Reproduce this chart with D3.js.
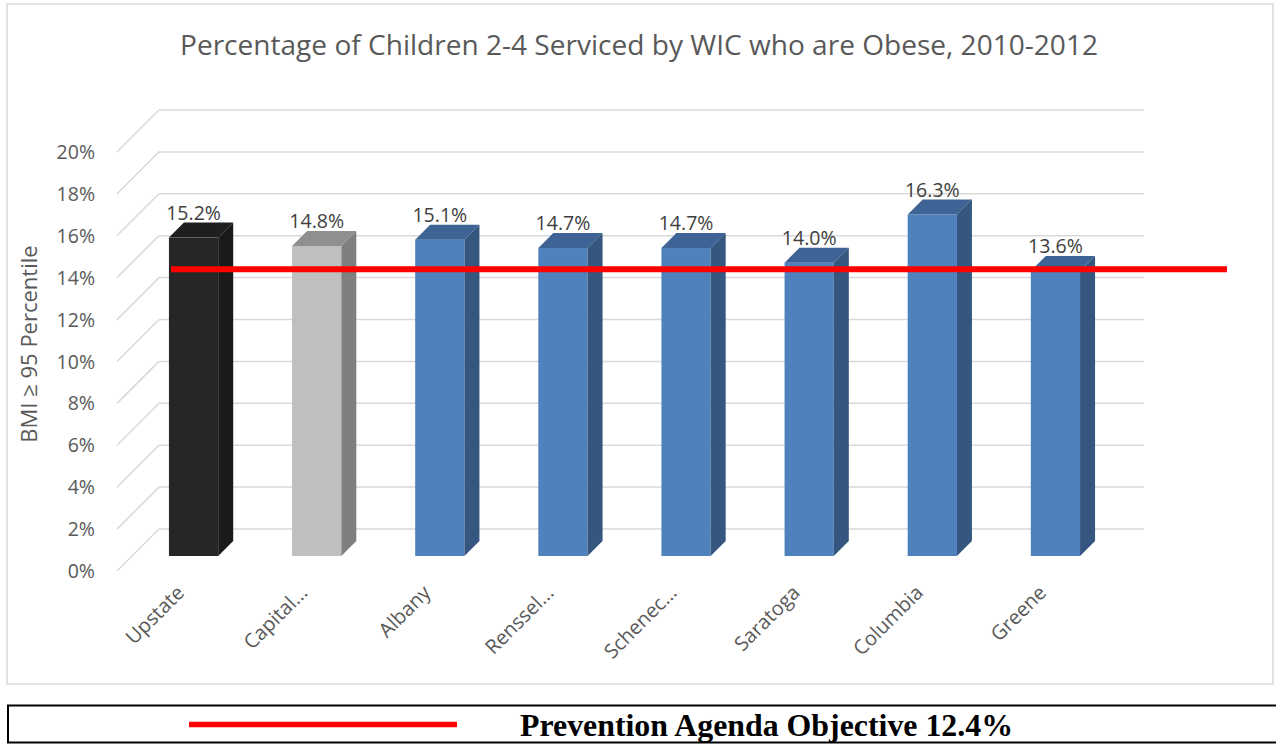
<!DOCTYPE html>
<html>
<head>
<meta charset="utf-8">
<script src="https://cdn.jsdelivr.net/npm/d3@7"></script>
<style>
  body { margin: 0; background: #fff; }
  svg { display: block; }
  text { font-family: "Open Sans", sans-serif; }
</style>
</head>
<body>
<div id="chart"></div>
<script>
// chart data
var categories = ["Upstate", "Capital...", "Albany", "Renssel...", "Schenec...", "Saratoga", "Columbia", "Greene"];
var values = [15.2, 14.8, 15.1, 14.7, 14.7, 14.0, 16.3, 13.6];
var yTicks = [0, 2, 4, 6, 8, 10, 12, 14, 16, 18, 20];
var objective = 12.4;
var title = "Percentage of Children 2-4 Serviced by WIC who are Obese, 2010-2012";
var yTitle = "BMI \u2265 95 Percentile";
var legendText = "Prevention Agenda Objective 12.4%";

var width = 1276, height = 744;
var svg = d3.select("#chart").append("svg").attr("width", width).attr("height", height);

// colours: region, capital district, counties
function barColors(i) {
  if (i === 0) return { front: "#262626", side: "#1a1a1a", top: "#1f1f1f" };
  if (i === 1) return { front: "#bfbfbf", side: "#7f7f7f", top: "#8f8f8f" };
  return { front: "#4f81bd", side: "#34567f", top: "#3d6494" };
}

// 3d geometry
var wallDepth = 42;     // floor depth (dx == dy)
var barOffset = 15;     // distance of bar front from front plane
var barDepth = 15;

var x = d3.scaleBand().domain(categories).range([117, 1102]).paddingInner(0.6).paddingOuter(0.3);
var y = d3.scaleLinear().domain([0, 20]).range([571, 152]);

// outer frame
svg.append("rect").attr("x", 7).attr("y", 4).attr("width", 1266).attr("height", 680)
  .attr("fill", "none").attr("stroke", "#d9d9d9").attr("stroke-width", 1.5);

// title
svg.append("text").attr("x", 639).attr("y", 55).attr("text-anchor", "middle")
  .attr("font-size", 27).attr("fill", "#595959")
  .attr("textLength", 918).attr("lengthAdjust", "spacingAndGlyphs")
  .text(title);

// gridlines: back wall + side wall
var grid = svg.append("g").attr("stroke", "#d9d9d9").attr("stroke-width", 1.5).attr("fill", "none");
grid.selectAll("line.back").data(yTicks).enter().append("line")
  .attr("x1", 117 + wallDepth).attr("x2", 1102 + wallDepth)
  .attr("y1", function(d) { return y(d) - wallDepth; })
  .attr("y2", function(d) { return y(d) - wallDepth; });
grid.selectAll("line.side").data(yTicks).enter().append("line")
  .attr("x1", 117).attr("x2", 117 + wallDepth)
  .attr("y1", function(d) { return y(d); })
  .attr("y2", function(d) { return y(d) - wallDepth; });

// y tick labels
svg.selectAll("text.ytick").data(yTicks).enter().append("text")
  .attr("x", 95).attr("y", function(d) { return y(d); }).attr("dy", "0.36em")
  .attr("text-anchor", "end").attr("font-size", 19.5).attr("fill", "#595959")
  .text(function(d) { return d + "%"; });

// y title
svg.append("text").attr("transform", "translate(37,344) rotate(-90)")
  .attr("text-anchor", "middle").attr("font-size", 22).attr("fill", "#595959")
  .text(yTitle);

// bars
var bars = svg.selectAll("g.bar").data(values).enter().append("g");
bars.each(function(v, i) {
  var g = d3.select(this);
  var c = barColors(i);
  var x0 = x(categories[i]) + barOffset;
  var w = x.bandwidth();
  var yt = y(v) - barOffset, yb = y(0) - barOffset;
  var d = barDepth;
  g.append("rect").attr("x", x0).attr("y", yt).attr("width", w).attr("height", yb - yt).attr("fill", c.front);
  g.append("polygon").attr("fill", c.side)
    .attr("points", [[x0 + w, yt], [x0 + w + d, yt - d], [x0 + w + d, yb - d], [x0 + w, yb]].join(" "));
  g.append("polygon").attr("fill", c.top)
    .attr("points", [[x0, yt], [x0 + d, yt - d], [x0 + w + d, yt - d], [x0 + w, yt]].join(" "));
  g.append("text").attr("x", x0 + w / 2).attr("y", yt - d - 3)
    .attr("text-anchor", "middle").attr("font-size", 19.5).attr("fill", "#404040")
    .text(v.toFixed(1) + "%");
});

// category labels
svg.selectAll("text.xlab").data(categories).enter().append("text")
  .attr("transform", function(d) {
    return "translate(" + (x(d) + barOffset + x.bandwidth() / 2 - 8) + ",594) rotate(-45)";
  })
  .attr("text-anchor", "end").attr("font-size", 20).attr("fill", "#595959")
  .text(function(d) { return d; });

// objective line (drawn on back wall level)
var objY = y(objective) - wallDepth;
svg.append("line").attr("x1", 171).attr("x2", 1227).attr("y1", objY).attr("y2", objY)
  .attr("stroke", "#ff0000").attr("stroke-width", 6);

// legend box
svg.append("rect").attr("x", 8).attr("y", 705.5).attr("width", 1280).attr("height", 37)
  .attr("fill", "none").attr("stroke", "#000").attr("stroke-width", 2);
svg.append("line").attr("x1", 189).attr("x2", 457).attr("y1", 724.5).attr("y2", 724.5)
  .attr("stroke", "#ff0000").attr("stroke-width", 5.5);
svg.append("text").attr("x", 520).attr("y", 736)
  .style("font-family", "'Liberation Serif', 'Times New Roman', serif")
  .attr("font-weight", "bold").attr("font-size", 32).attr("fill", "#000")
  .attr("textLength", 493).attr("lengthAdjust", "spacingAndGlyphs")
  .text(legendText);
</script>
</body>
</html>
